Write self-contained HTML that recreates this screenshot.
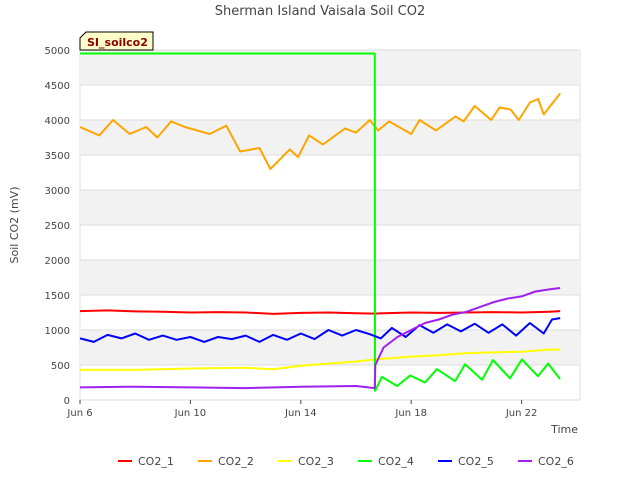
<!DOCTYPE html>
<html><head><meta charset="utf-8"><style>
body{margin:0;background:#fff;font-family:"DejaVu Sans","Liberation Sans",sans-serif;}
</style></head><body>
<svg id="chart" width="640" height="480" xmlns="http://www.w3.org/2000/svg" font-family="DejaVu Sans, Liberation Sans, sans-serif">
<text x="320" y="15" text-anchor="middle" font-size="13" fill="#444">Sherman Island Vaisala Soil CO2</text>
<g id="bands"></g>
<g id="axes"></g>
<g id="series"></g>
<g>
<path d="M80,50 L80,38 L86,32 L153,32 L153,50 Z" fill="#ffffcc" stroke="#000" stroke-width="1"/>
<text x="87" y="46" font-size="11" font-weight="bold" fill="#8b0000">SI_soilco2</text>
</g>
<text transform="translate(18,225) rotate(-90)" text-anchor="middle" font-size="11" fill="#444">Soil CO2 (mV)</text>
<text x="578" y="433" text-anchor="end" font-size="11" fill="#444">Time</text>
<g id="legend"></g>
</svg>
<script>
const xTickLabels=["Jun 6","Jun 10","Jun 14","Jun 18","Jun 22"];
const xTickDays=[0,4,8,12,16];
const yTicks=[0,500,1000,1500,2000,2500,3000,3500,4000,4500,5000];
const names=["CO2_1","CO2_2","CO2_3","CO2_4","CO2_5","CO2_6"];
const colors=["#ff0000","#ffa500","#ffff00","#00ff00","#0000ff","#a020f0"];
const d1=[0,1,2,3,4,5,6,7,8,9,10,10.7,11,12,13,14,15,16,17,17.4];
const v1=[1270,1280,1265,1260,1250,1255,1250,1230,1245,1250,1240,1235,1240,1250,1245,1250,1255,1250,1260,1270];
const d2=[0,0.7,1.2,1.8,2.4,2.8,3.3,3.8,4.7,5.3,5.8,6.5,6.9,7.6,7.9,8.3,8.8,9.6,10,10.5,10.8,11.2,12,12.3,12.9,13.6,13.9,14.3,14.9,15.2,15.6,15.9,16.3,16.6,16.8,17.4];
const v2=[3900,3780,4000,3800,3900,3750,3980,3900,3800,3920,3550,3600,3300,3580,3470,3780,3650,3880,3820,4000,3850,3980,3800,4000,3850,4050,3980,4200,4000,4180,4150,4000,4250,4300,4080,4380];
const d3=[0,2,4,6,7,8,9,10,10.7,11,12,13,14,15,16,17,17.4];
const v3=[430,430,450,460,440,490,520,550,580,590,620,640,670,680,690,720,720];
const d4=[0,10.68,10.69,10.94,11.49,11.96,12.5,12.93,13.59,13.95,14.57,14.96,15.58,16.01,16.59,16.96,17.39];
const v4=[4950,4950,130,330,200,350,250,440,270,510,290,570,310,580,340,520,300];
const d5=[0,0.5,1,1.5,2,2.5,3,3.5,4,4.5,5,5.5,6,6.5,7,7.5,8,8.5,9,9.5,10,10.5,10.9,11.3,11.8,12.3,12.8,13.3,13.8,14.3,14.8,15.3,15.8,16.3,16.8,17.1,17.4];
const v5=[880,830,930,880,950,860,920,860,900,830,900,870,920,830,930,860,950,870,1000,920,1000,940,880,1030,900,1070,960,1080,980,1090,960,1080,920,1100,950,1150,1170];
const d6=[0,2,4,6,8,10,10.68,10.7,11,11.5,12,12.5,13,13.5,14,14.5,15,15.5,16,16.5,17,17.4];
const v6=[180,190,180,170,190,200,170,500,750,900,1000,1100,1150,1220,1260,1330,1400,1450,1480,1550,1580,1600];
const allD=[d1,d2,d3,d4,d5,d6], allV=[v1,v2,v3,v4,v5,v6];
const X=d=>80+d*27.6, Y=v=>400-v*0.07;
const NS="http://www.w3.org/2000/svg";
function mk(t,a,p){const e=document.createElementNS(NS,t);for(const k in a)e.setAttribute(k,a[k]);p.appendChild(e);return e;}
const bands=document.getElementById('bands');
mk('rect',{x:80,y:50,width:500,height:350,fill:'#fff',stroke:'#ddd'},bands);
for(let i=0;i<yTicks.length-1;i++){
 if(i%2===1){const r=mk('rect',{x:80,y:Y(yTicks[i+1]),width:500,height:Y(yTicks[i])-Y(yTicks[i+1]),fill:'#f2f2f2'},bands);
 
 }
}
const axes=document.getElementById('axes');
yTicks.forEach(v=>{
 mk('line',{x1:80,x2:580,y1:Y(v),y2:Y(v),stroke:'#ddd'},axes);
 const t=mk('text',{x:70,y:Y(v)+4,'text-anchor':'end','font-size':10,fill:'#444'},axes);t.textContent=v;
 
 
});
xTickDays.forEach((d,i)=>{
 mk('line',{x1:X(d),x2:X(d),y1:400,y2:404,stroke:'#444'},axes);
 const t=mk('text',{x:X(d),y:416,'text-anchor':'middle','font-size':10,fill:'#444'},axes);t.textContent=xTickLabels[i];
 
 
});
const ser=document.getElementById('series');
allD.forEach((ds,s)=>{
 const p=ds.map((d,i)=>(i?'L':'M')+X(d).toFixed(1)+','+Y(allV[s][i]).toFixed(1)).join(' ');
 const e=mk('path',{d:p,fill:'none',stroke:colors[s],'stroke-width':2,'stroke-linejoin':'round'},ser);
 
 
});
const lg=document.getElementById('legend');
const lx=[118,198,278,358,438,518];
names.forEach((n,i)=>{
 const g=mk('g',{},lg);
 
 
 mk('line',{x1:lx[i],x2:lx[i]+14,y1:461,y2:461,stroke:colors[i],'stroke-width':2},g);
 const t=mk('text',{x:lx[i]+20,y:465,'font-size':11,fill:'#444'},g);t.textContent=n;
});
</script>
</body></html>
